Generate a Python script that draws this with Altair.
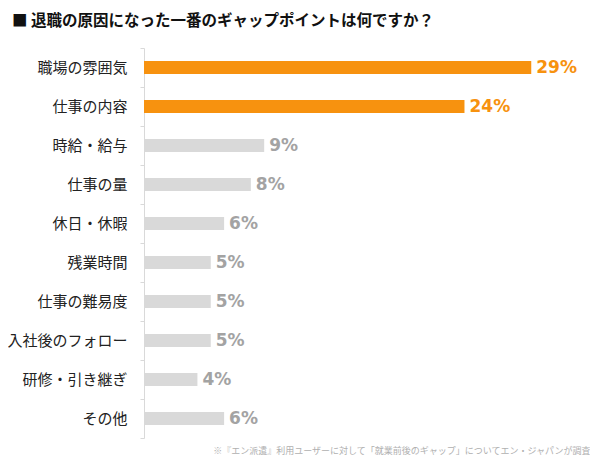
import altair as alt
import pandas as pd

title_text = "■ 退職の原因になった一番のギャップポイントは何ですか？"
footnote = "※『エン派遣』利用ユーザーに対して「就業前後のギャップ」についてエン・ジャパンが調査"
categories = ["職場の雰囲気", "仕事の内容", "時給・給与", "仕事の量", "休日・休暇",
              "残業時間", "仕事の難易度", "入社後のフォロー", "研修・引き継ぎ", "その他"]
values = [29, 24, 9, 8, 6, 5, 5, 5, 4, 6]
groups = ["top", "top", "other", "other", "other", "other", "other", "other", "other", "other"]

df = pd.DataFrame({"cat": categories, "val": values, "grp": groups})
df["label"] = df["val"].astype(str) + "%"

ORANGE = "#f7920f"
GRAY_BAR = "#d9d9d9"
GRAY_TXT = "#a3a3a3"

y_enc = alt.Y("cat:N", sort=categories,
              scale=alt.Scale(paddingInner=0, paddingOuter=0),
              axis=alt.Axis(title=None, tickBand="extent", tickSize=4, labelPadding=13,
                            domainColor="#d9d9d9", tickColor="#d9d9d9",
                            labelFont="Noto Sans CJK JP", labelFontSize=15,
                            labelColor="#222222"))
x_enc = alt.X("val:Q", scale=alt.Scale(domain=[0, 33.4], nice=False),
              axis=alt.Axis(title=footnote, labels=False, ticks=False, domain=False,
                            grid=False, titleAnchor="end", titleFont="Noto Sans CJK JP",
                            titleFontSize=9, titleColor="#b0b0b0", titleFontWeight="normal",
                            titlePadding=8))

base = alt.Chart(df)
bars = base.mark_bar(size=13).encode(
    y=y_enc, x=x_enc,
    color=alt.Color("grp:N", scale=alt.Scale(domain=["top", "other"], range=[ORANGE, GRAY_BAR]),
                    legend=None),
)
texts = base.mark_text(align="left", baseline="middle", dx=5, font="DejaVu Sans",
                       fontSize=17, fontWeight="bold").encode(
    y=alt.Y("cat:N", sort=categories),
    x=alt.X("val:Q"),
    text="label:N",
    color=alt.Color("grp:N", scale=alt.Scale(domain=["top", "other"], range=[ORANGE, GRAY_TXT]),
                    legend=None),
)

chart = alt.layer(bars, texts).resolve_scale(color="independent").properties(
    width=446, height=390,
    autosize="none",
    padding={"left": 136, "top": 40, "right": 0, "bottom": 25},
    title=alt.TitleParams(title_text, anchor="start", frame="group", dx=-132, offset=12,
                          font="Noto Sans CJK JP", fontSize=15.5, fontWeight="bold",
                          color="#111111"),
).configure_view(stroke=None)

chart.save("out.html", embed_options={"renderer": "svg", "actions": False})
